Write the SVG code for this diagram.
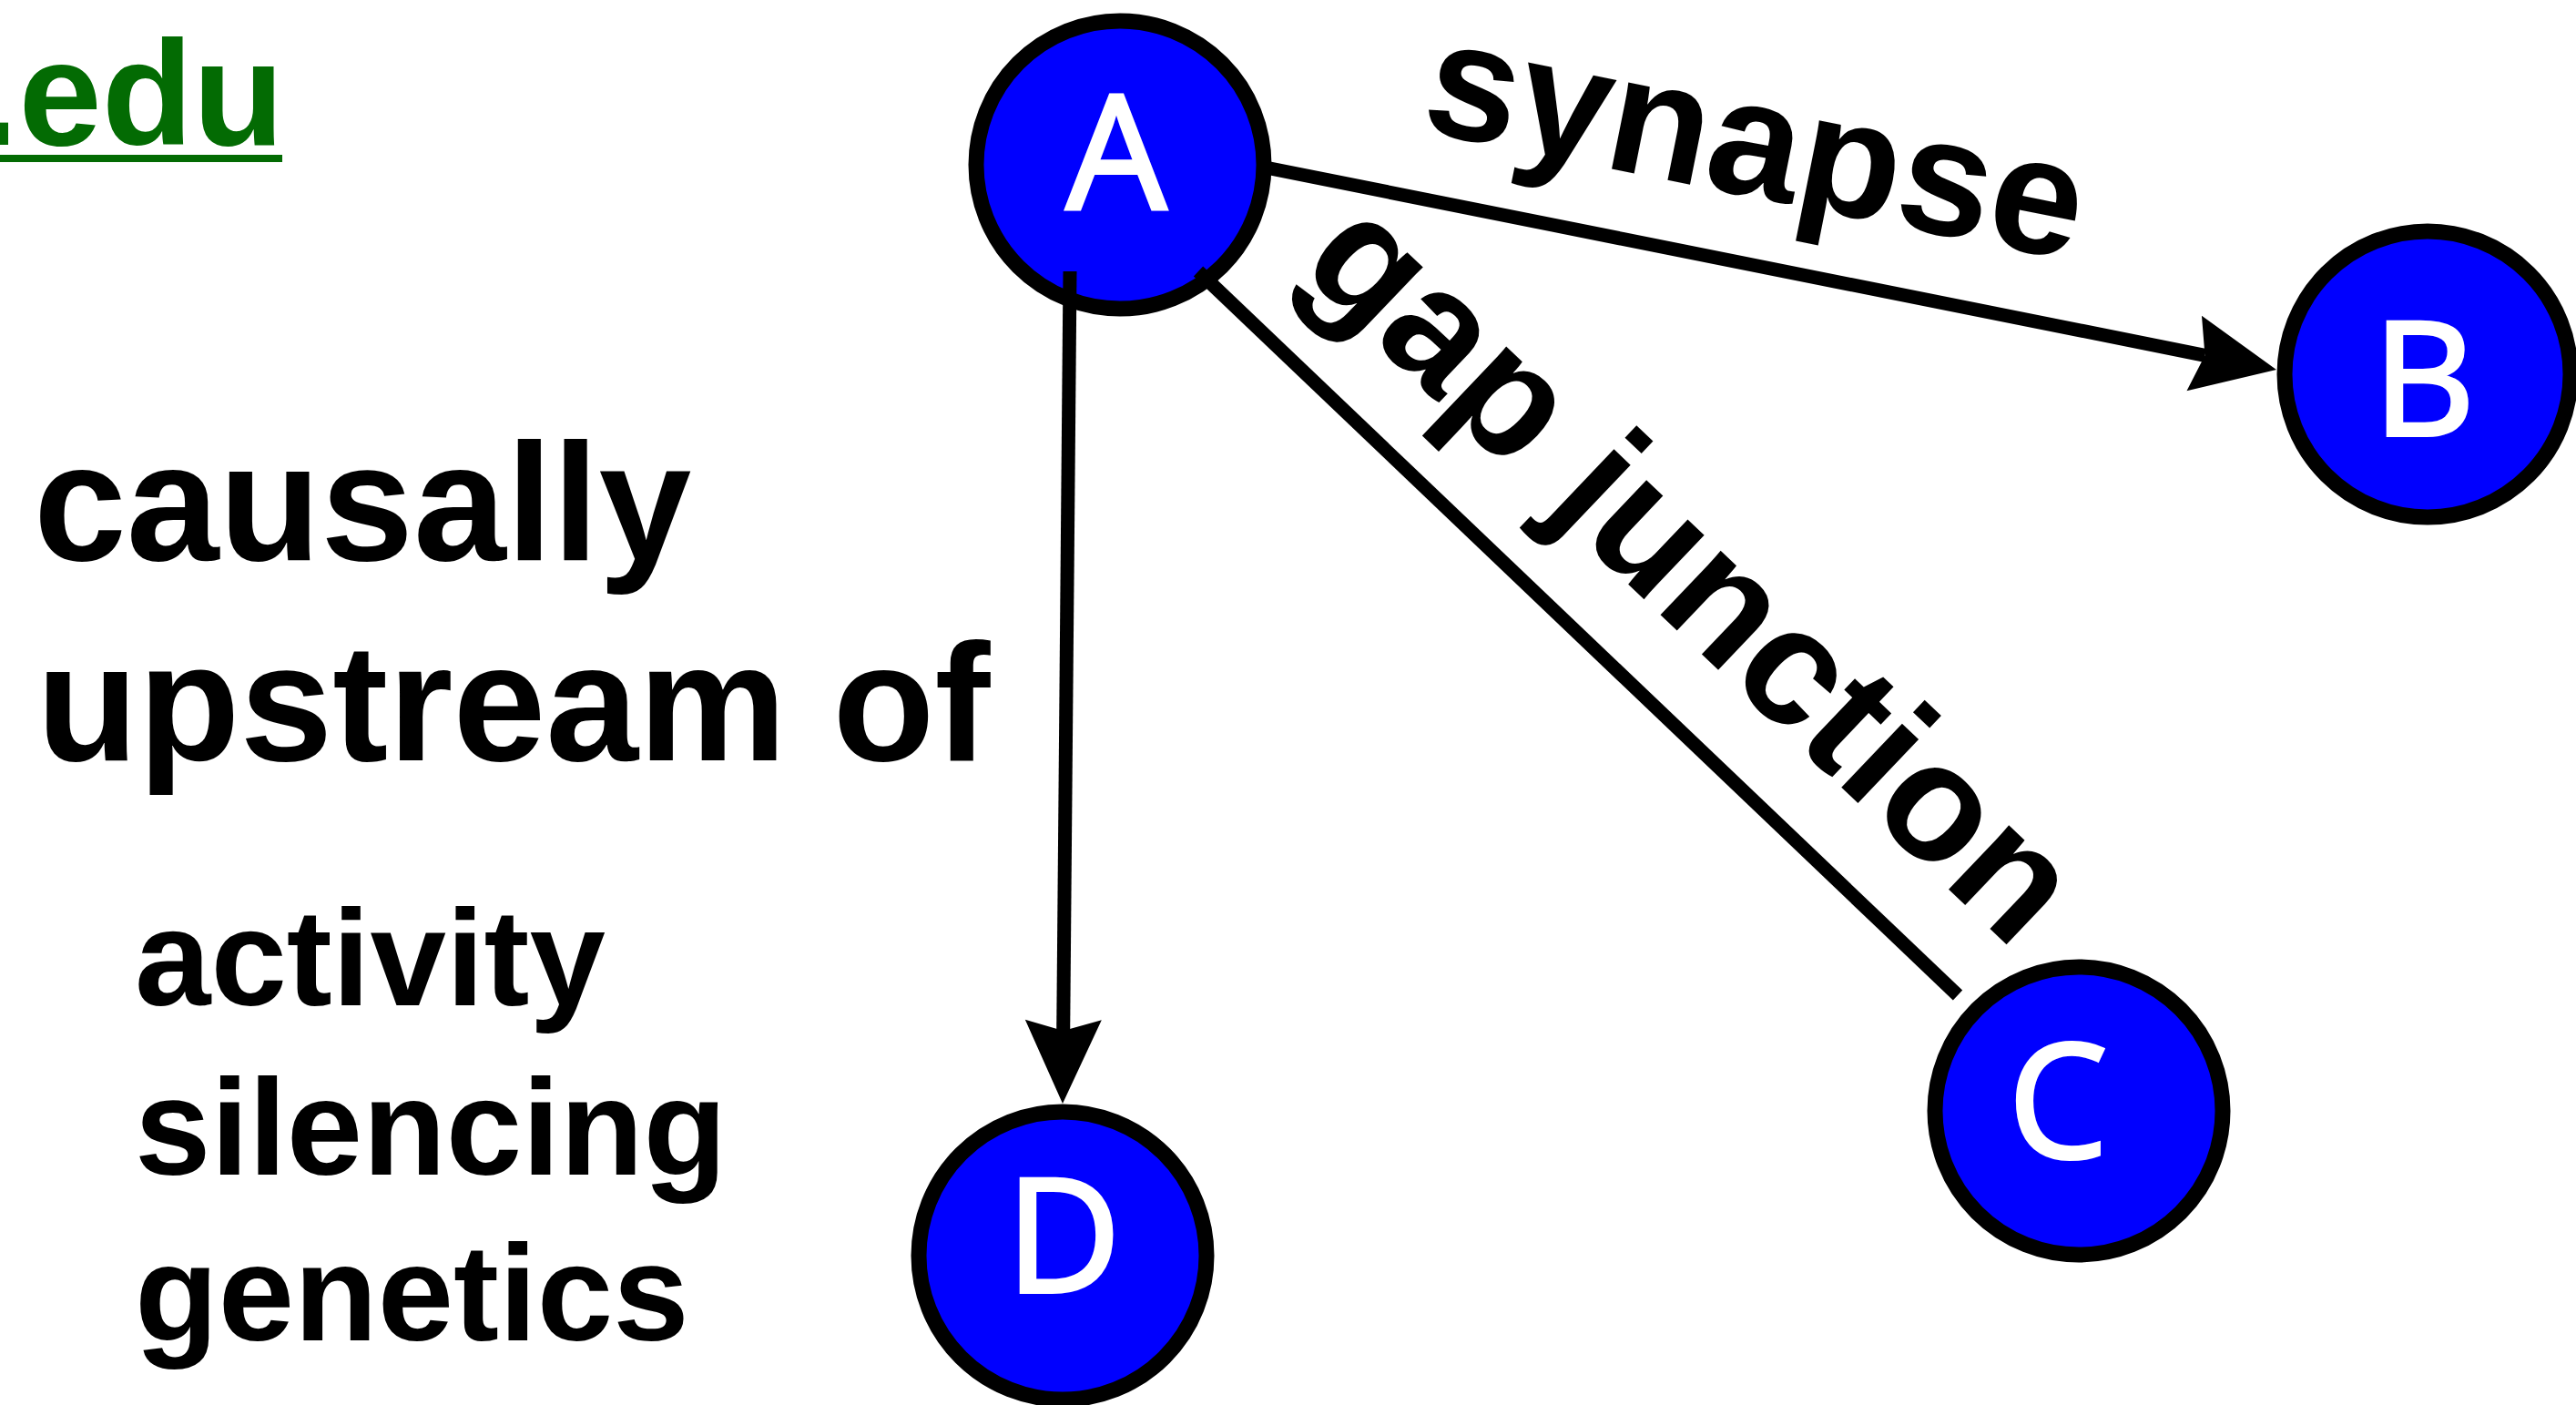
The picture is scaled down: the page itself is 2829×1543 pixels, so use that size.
<svg xmlns="http://www.w3.org/2000/svg" width="2829" height="1543" viewBox="0 0 2829 1543">
  <style>
    .node circle { fill: #0000ff; stroke: #000000; stroke-width: 17; }
    .node text { fill: #ffffff; stroke: #ffffff; stroke-width: 4; font-family: "Open Sans", "DejaVu Sans", sans-serif; font-size: 174px; text-anchor: middle; }
    .lbl { fill: #000000; font-family: "Liberation Sans", Arial, sans-serif; font-weight: bold; }
    .big { font-size: 183px; }
    .small { font-size: 150px; }
    .edge { stroke: #000000; stroke-width: 15; fill: none; stroke-linecap: butt; }
  </style>
  <defs>
    <marker id="arrow" markerUnits="userSpaceOnUse" viewBox="-95 -45 100 90" markerWidth="100" markerHeight="90" refX="-80" refY="0" orient="auto">
      <path d="M0,0 L-92,-42 L-80,0 L-92,42 Z" fill="#000000"/>
    </marker>
  </defs>
  <rect width="2829" height="1543" fill="#ffffff"/>

  <g id="link-edu">
    <text x="312" y="159" fill="#036b03" font-family="Liberation Sans, Arial, sans-serif" font-weight="bold" font-size="164" text-anchor="end">.edu</text>
    <rect x="0" y="170" width="310" height="8" fill="#036b03"/>
  </g>

  <g id="legend">
    <text class="lbl big" x="37" y="615">causally</text>
    <text class="lbl big" x="40" y="835">upstream of</text>
    <text class="lbl small" x="148" y="1104">activity</text>
    <text class="lbl small" x="148" y="1290">silencing</text>
    <text class="lbl small" x="148" y="1472">genetics</text>
  </g>

  <g id="node-A" class="node">
    <circle cx="1230" cy="181" r="158"/>
    <text x="1226" y="230">A</text>
  </g>
  <g id="node-B" class="node">
    <circle cx="2666" cy="411" r="157"/>
    <text x="2662" y="478">B</text>
  </g>
  <g id="node-C" class="node">
    <circle cx="2283" cy="1220" r="158"/>
    <text x="2260" y="1271">C</text>
  </g>
  <g id="node-D" class="node">
    <circle cx="1167" cy="1379" r="158"/>
    <text x="1168" y="1419">D</text>
  </g>

  <g id="connectors">
    <line class="edge" x1="1390" y1="184" x2="2421.5" y2="390.3" marker-end="url(#arrow)"/>
    <line class="edge" x1="1175" y1="298" x2="1167.7" y2="1132" marker-end="url(#arrow)"/>
    <line class="edge" x1="1316" y1="298" x2="2150" y2="1093"/>
    <text class="lbl big" transform="translate(1558,143) rotate(11.3)">synapse</text>
    <text class="lbl big" transform="translate(1424,295) rotate(43.6)">gap junction</text>
  </g>
</svg>
